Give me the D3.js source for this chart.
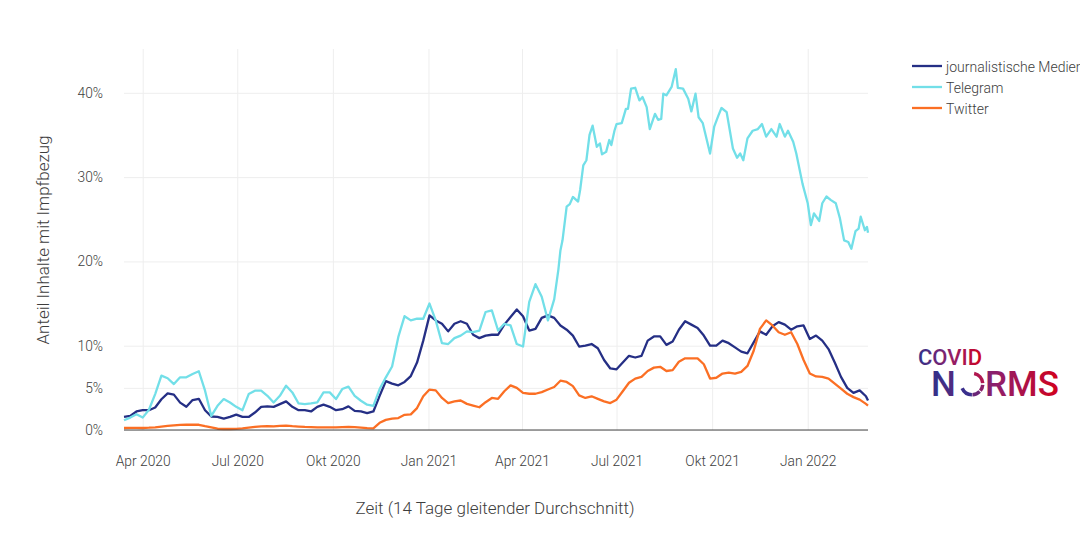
<!DOCTYPE html>
<html>
<head>
<meta charset="utf-8">
<script src="https://cdn.jsdelivr.net/npm/d3@7"></script>
<style>
  body { margin: 0; background: #fff; }
  svg { display: block; font-family: Roboto, sans-serif; font-weight: 300; }
  .grid line { stroke: #eeeeee; stroke-width: 1; }
  .grid path { display: none; }
  .tick text { fill: #3d3d3d; font-size: 13.8px; font-family: Roboto, sans-serif; font-weight: 300; }
</style>
</head>
<body>
<div class="main"></div>
<script>
const seriesNames = ["journalistische Medien", "Telegram", "Twitter"];
const seriesColors = ["#252f85", "#72dfe8", "#fb6f24"];

const xTickDates = ["2020-04-01", "2020-07-01", "2020-10-01", "2021-01-01", "2021-04-01", "2021-07-01", "2021-10-01", "2022-01-01"];
const xTickLabels = ["Apr 2020", "Jul 2020", "Okt 2020", "Jan 2021", "Apr 2021", "Jul 2021", "Okt 2021", "Jan 2022"];
const yTicks = [0, 5, 10, 20, 30, 40];

// days since the first date on the axis
const startDate = new Date(Date.UTC(2020, 2, 14));
const sharedDays = d3.range(0, 720, 6).concat([716]);

const mediaValues = [
  1.55, 1.67, 2.2, 2.35, 2.35, 2.67, 3.65, 4.34, 4.2, 3.25,
  2.75, 3.55, 3.7, 2.35, 1.6, 1.55, 1.35, 1.55, 1.83, 1.55,
  1.55, 2.07, 2.75, 2.8, 2.75, 3.07, 3.4, 2.75, 2.35, 2.35,
  2.2, 2.75, 3.0, 2.75, 2.35, 2.47, 2.8, 2.27, 2.2, 2.0,
  2.2, 4.05, 5.8, 5.5, 5.3, 5.7, 6.4, 8.0, 10.6, 13.6,
  13.0, 12.6, 11.7, 12.6, 12.9, 12.6, 11.3, 10.9, 11.2, 11.3,
  11.3, 12.5, 13.4, 14.3, 13.5, 11.8, 12.0, 13.3, 13.6, 13.3,
  12.4, 11.9, 11.2, 9.9, 10.0, 10.2, 9.7, 8.3, 7.3, 7.2,
  8.0, 8.8, 8.6, 8.8, 10.6, 11.1, 11.1, 10.1, 10.5, 11.9,
  12.9, 12.5, 12.1, 11.2, 10.0, 10.0, 10.6, 10.3, 9.8, 9.3,
  9.1, 10.4, 11.7, 11.3, 12.3, 12.8, 12.5, 11.9, 12.3, 12.4,
  10.8, 11.2, 10.6, 9.6, 8.0, 6.3, 5.0, 4.4, 4.7, 4.0, 3.5
];

const twitterValues = [
  0.24, 0.26, 0.26, 0.24, 0.27, 0.32, 0.4, 0.48, 0.55, 0.6,
  0.62, 0.64, 0.62, 0.45, 0.3, 0.15, 0.12, 0.12, 0.14, 0.2,
  0.28, 0.36, 0.44, 0.46, 0.42, 0.48, 0.52, 0.45, 0.4, 0.36,
  0.34, 0.32, 0.3, 0.3, 0.32, 0.34, 0.36, 0.34, 0.28, 0.22,
  0.2, 0.85, 1.2, 1.35, 1.42, 1.8, 1.85, 2.6, 4.0, 4.8,
  4.7, 3.8, 3.2, 3.4, 3.5, 3.1, 2.9, 2.7, 3.3, 3.8,
  3.7, 4.6, 5.3, 5.0, 4.4, 4.3, 4.3, 4.5, 4.8, 5.1,
  5.85, 5.7, 5.2, 4.1, 3.8, 4.0, 3.7, 3.4, 3.2, 3.6,
  4.6, 5.6, 6.1, 6.3, 7.0, 7.4, 7.5, 7.0, 7.1, 8.1,
  8.5, 8.5, 8.5, 7.8, 6.1, 6.2, 6.7, 6.8, 6.7, 6.9,
  7.6, 9.4, 12.0, 13.0, 12.4, 11.6, 11.3, 11.6, 10.2, 8.3,
  6.7, 6.35, 6.3, 6.1, 5.5, 4.9, 4.3, 3.9, 3.6, 3.1, 2.9
];

const telegramDays = d3.range(0, 420, 6).concat([
  418, 420, 422, 426, 429, 432, 437, 439, 442, 445,
  448, 451, 455, 458, 460, 464, 467, 469, 472, 474,
  479, 483, 485, 488, 492, 496, 499, 503, 506, 511,
  514, 517, 519, 522, 527, 531, 533, 538, 543, 546,
  550, 553, 557, 564, 568, 572, 575, 580, 586, 590,
  593, 596, 600, 605, 610, 614, 618, 623, 628, 631,
  636, 639, 644, 647, 653, 658, 661, 664, 669, 672,
  676, 680, 685, 689, 693, 697, 700, 704, 707, 709,
  713, 715, 716
]);
const telegramValues = [
  1.15, 1.47, 1.87, 1.47, 2.4, 4.26, 6.45, 6.14, 5.45, 6.25,
  6.25, 6.65, 6.97, 4.66, 1.67, 2.87, 3.67, 3.27, 2.75, 2.35,
  4.26, 4.66, 4.66, 4.06, 3.27, 4.06, 5.26, 4.46, 3.15, 3.07,
  3.15, 3.27, 4.46, 4.46, 3.67, 4.86, 5.14, 4.06, 3.47, 3.0,
  2.87, 4.86, 6.25, 7.53, 11.04, 13.5, 13.0, 13.2, 13.2, 15.0,
  13.0, 10.3, 10.2, 10.9, 11.2, 11.7, 11.6, 11.8, 14.0, 14.2,
  11.8, 12.6, 12.4, 10.2, 9.9, 15.2, 17.3, 15.8, 13.0, 15.5,
  19, 21.3, 22.5, 26.5, 26.8, 27.65, 27.1, 28.5, 31.4, 32,
  35, 36.1, 33.6, 34, 32.7, 33, 34.4, 33.8, 35.5, 36.3,
  36.4, 38.1, 38.1, 40.5, 40.6, 39.1, 39.5, 38.3, 35.7, 37.5,
  36.8, 36.9, 39.9, 39.7, 40.7, 42.8, 40.6, 40.5, 39.3, 37.8,
  39.9, 37.1, 36.4, 32.8, 36, 37.3, 38.2, 37.7, 33.4, 32.3,
  32.8, 32, 34.6, 35.5, 35.7, 36.3, 34.8, 35.7, 34.8, 36.3,
  34.8, 35.5, 34.2, 32.8, 29.2, 26.9, 24.3, 25.7, 24.8, 26.9,
  27.7, 27.3, 26.9, 25.1, 22.5, 22.3, 21.5, 23.6, 23.9, 25.3,
  23.7, 24.1, 23.4
];

const seriesDays = [sharedDays, telegramDays, sharedDays];
const seriesValues = [mediaValues, telegramValues, twitterValues];

const fullwidth = 1080;
const fullheight = 536;
const margin = { top: 49, right: 212, bottom: 106, left: 124 };
const parseDate = d3.utcParse("%Y-%m-%d");

const svg = d3
  .select(".main")
  .append("svg")
  .attr("width", fullwidth)
  .attr("height", fullheight);

const x = d3
  .scaleUtc()
  .domain([startDate, d3.utcDay.offset(startDate, 716)])
  .range([margin.left, fullwidth - margin.right]);

const y = d3
  .scaleLinear()
  .domain([0, 45.2])
  .range([fullheight - margin.bottom, margin.top]);

// grid + tick labels
const tickDates = xTickDates.map(parseDate);
svg
  .append("g")
  .attr("class", "grid")
  .attr("transform", "translate(0," + y(0) + ")")
  .call(
    d3
      .axisBottom(x)
      .tickValues(tickDates)
      .tickSize(-(y(0) - margin.top))
      .tickPadding(26)
      .tickFormat((d, i) => xTickLabels[i])
  );

svg
  .append("g")
  .attr("class", "grid")
  .attr("transform", "translate(" + margin.left + ",0)")
  .call(
    d3
      .axisLeft(y)
      .tickValues(yTicks)
      .tickSize(-(fullwidth - margin.right - margin.left))
      .tickPadding(21)
      .tickFormat((d) => d + "%")
  );

// lines
const line = d3
  .line()
  .x((d) => x(d3.utcDay.offset(startDate, d[0])))
  .y((d) => y(d[1]));

seriesNames.forEach((name, i) => {
  const points = seriesDays[i].map((d, j) => [d, seriesValues[i][j]]);
  svg
    .append("path")
    .datum(points)
    .attr("fill", "none")
    .attr("stroke", seriesColors[i])
    .attr("stroke-width", 2.3)
    .attr("stroke-linejoin", "round")
    .attr("d", line);
});

// baseline
svg
  .append("line")
  .attr("x1", margin.left)
  .attr("x2", fullwidth - margin.right)
  .attr("y1", y(0))
  .attr("y2", y(0))
  .attr("stroke", "#444")
  .attr("stroke-width", 1);

// axis titles
svg
  .append("text")
  .attr("x", 495)
  .attr("y", 514)
  .attr("text-anchor", "middle")
  .attr("fill", "#3d3d3d")
  .style("font-size", "17px")
  .text("Zeit (14 Tage gleitender Durchschnitt)");

svg
  .append("text")
  .attr("transform", "translate(49,240) rotate(-90)")
  .attr("text-anchor", "middle")
  .attr("fill", "#3d3d3d")
  .style("font-size", "17px")
  .text("Anteil Inhalte mit Impfbezug");

// legend
const legend = svg
  .selectAll(".legend")
  .data(seriesNames)
  .join("g")
  .attr("class", "legend")
  .attr("transform", (d, i) => "translate(912," + (66 + i * 21) + ")");

legend
  .append("line")
  .attr("x2", 30)
  .attr("stroke", (d, i) => seriesColors[i])
  .attr("stroke-width", 2.3);

legend
  .append("text")
  .attr("x", 34)
  .attr("y", 6)
  .attr("fill", "#3d3d3d")
  .style("font-size", "14px")
  .text((d) => d);

// logo
const defs = svg.append("defs");
[["covidGrad", 918, 984], ["normsGrad", 933, 1060]].forEach((g) => {
  const grad = defs
    .append("linearGradient")
    .attr("id", g[0])
    .attr("gradientUnits", "userSpaceOnUse")
    .attr("x1", g[1])
    .attr("x2", g[2])
    .attr("y1", 0)
    .attr("y2", 0);
  grad.append("stop").attr("offset", 0).attr("stop-color", "#33308a");
  grad.append("stop").attr("offset", 0.5).attr("stop-color", "#8f1f6b");
  grad.append("stop").attr("offset", 1).attr("stop-color", "#d3001b");
});

const logo = svg.append("g").style("font-weight", 500);
logo
  .append("text")
  .attr("x", 918)
  .attr("y", 365)
  .attr("fill", "url(#covidGrad)")
  .style("font-size", "22px")
  .text("COVID");
logo
  .append("text")
  .attr("x", 931)
  .attr("y", 396)
  .attr("fill", "url(#normsGrad)")
  .style("font-size", "35px")
  .text("N");
logo
  .append("text")
  .attr("x", 985)
  .attr("y", 396)
  .attr("fill", "url(#normsGrad)")
  .style("font-size", "35px")
  .text("RMS");

const arc = d3.arc().innerRadius(9).outerRadius(12.5);
const ringParts = [
  [0.2, 1.5, "#b0174f"],
  [1.65, 2.25, "#8a2068"],
  [2.35, 3.1, "#6a2678"],
  [3.15, 4.3, "#3a2f8c"]
];
logo
  .selectAll(".ring")
  .data(ringParts)
  .join("path")
  .attr("class", "ring")
  .attr("transform", "translate(972,384)")
  .attr("fill", (d) => d[2])
  .attr("d", (d) => arc({ startAngle: d[0], endAngle: d[1] }));
</script>
</body>
</html>
